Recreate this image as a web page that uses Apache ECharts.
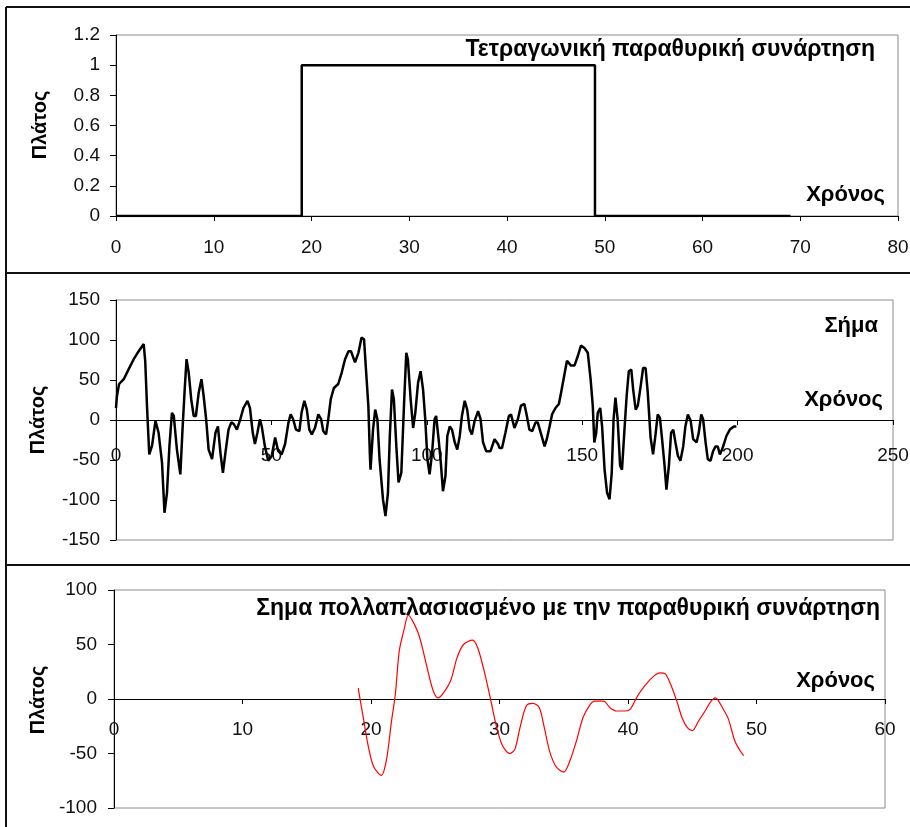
<!DOCTYPE html>
<html><head><meta charset="utf-8">
<script src="https://cdn.jsdelivr.net/npm/echarts@6/dist/echarts.min.js"></script>
<style>html,body{margin:0;padding:0;background:#fff}#c{width:910px;height:827px}</style>
</head><body><div id="c"></div>
<script>
// Panel 1: rectangular window
const windowX = [0, 19, 19, 49, 49, 69];
const windowY = [0, 0, 1, 1, 0, 0];
// Panel 2: signal
const signalX = [0,0.3,1,2.5,4,5.7,7.3,8.9,9.4,10,10.7,11.6,12.7,13.7,14.8,15.6,16.4,17.2,18,18.6,19.6,20.7,21.4,22.1,22.7,23.4,24.2,25,25.7,26.6,27.5,28.2,29,29.8,30.9,32,32.8,33.6,34.4,35.2,36.2,37.1,37.9,38.9,40,41,42.3,43.1,44,44.7,45.5,46.3,46.9,47.9,49,50.1,51.2,52.2,53.3,54.4,55.5,56.2,57,57.9,59,59.7,60.6,61.4,62.2,63,64,65.1,66,66.7,67.6,68.3,69.1,70.1,71.5,72.6,73.7,74.8,75.6,76.9,78,79,79.8,80.4,81.2,81.7,81.9,82.7,83.4,84.1,84.8,85.9,86.7,87.5,88.1,88.8,89.4,90.2,90.9,91.8,92.7,93.4,93.9,94.8,95.6,96.3,97.2,98,98.8,99.5,100.2,100.9,101.7,102.5,103,103.8,104.5,105.2,106,106.6,107.4,108.1,109,109.8,110.6,111.3,112.2,113,113.8,114.5,115.4,116.5,117.3,118.1,119.1,120.5,121.8,122.9,123.4,124.2,125.3,126.4,127.1,128.2,129.3,130.3,131.4,132.2,133,133.9,135,135.7,136.8,137.9,138.6,139.5,140.3,141.4,142.5,143.2,144.1,145.1,145.7,146.4,147.5,148.6,149.6,150.7,151.8,152.7,153.4,153.9,154.5,155,155.8,156.4,157.2,158,158.8,159.5,160.1,160.7,161.4,162.2,162.8,163.6,164.3,165,165.8,166.4,167.2,167.9,168.8,169.6,170.4,171.1,172,172.8,173.6,174.3,175,175.7,176.5,177.1,177.9,178.6,179.3,180,180.8,181.6,182.5,183.2,184,184.9,185.7,186.8,187.5,188.3,188.9,189.7,190.4,191.3,192.1,192.9,193.6,194.3,195,195.6,196.4,197.5,198.8,199.6];
const signalY = [15,30,45,51,63,76,86,95,74,15,-43,-32,-1,-16,-53,-116,-91,-32,9,5,-37,-68,-12,38,76,59,26,5,5,34,51,30,1,-37,-49,-16,-8,-41,-66,-41,-12,-3,-5,-12,1,15,24,15,-16,-30,-16,1,-8,-33,-51,-45,-22,-39,-43,-30,-3,7,1,-12,-14,9,24,13,-12,-18,-10,7,1,-14,-18,1,26,40,45,59,76,86,86,72,84,103,101,65,17,-45,-62,-12,13,1,-49,-99,-120,-91,-20,38,26,-33,-78,-66,22,84,76,26,-10,9,47,61,38,1,-49,-68,-41,1,5,-24,-53,-89,-70,-20,-8,-12,-28,-37,-20,5,24,13,-12,-18,-1,11,1,-28,-39,-39,-24,-30,-35,-35,-16,5,7,-10,1,18,20,5,-12,-14,-3,-3,-18,-33,-24,-8,7,15,20,34,53,74,76,68,68,80,93,90,84,51,18,-28,-16,9,15,-8,-62,-91,-99,-66,1,28,1,-57,-62,-12,30,61,63,38,13,18,42,65,65,34,-22,-43,-18,7,3,-24,-57,-87,-57,-16,-12,-28,-45,-51,-33,-8,7,-1,-24,-28,-16,7,1,-28,-49,-51,-39,-33,-33,-43,-37,-30,-20,-12,-8,-8];
// Panel 3: signal multiplied by the window
const productX = [19,19.4,19.8,20.2,20.8,21.2,21.6,21.9,22.2,22.6,22.9,23.4,23.8,24.3,24.8,25.2,25.6,26.2,26.7,27.2,27.9,28.3,28.8,29.3,29.7,30.2,30.8,31.2,31.6,32.1,32.6,33.1,33.5,33.9,34.4,35,35.5,36,36.5,37,37.4,38.1,38.6,39.1,39.8,40.2,40.7,41.3,42,42.5,42.9,43.3,43.8,44.2,44.6,45,45.5,46,46.4,46.8,47,47.4,47.8,48.3,48.7,49];
const productY = [10,-17,-44,-62,-70,-56,-20,5,44,65,77,68,56,32,9,1,5,17,38,50,54,47,26,0,-22,-42,-50,-46,-26,-6,-4,-8,-27,-48,-62,-67,-56,-38,-17,-6,-2,-2,-8,-11,-11,-9,2,12,21,24,23,14,-2,-17,-26,-29,-20,-11,-3,1,-1,-9,-18,-38,-47,-52];

const yTitle = 'Πλάτος';
const xTitle = 'Χρόνος';
const title1 = 'Τετραγωνική παραθυρική συνάρτηση';
const title2 = 'Σήμα';
const title3 = 'Σημα πολλαπλασιασμένο με την παραθυρική συνάρτηση';

const FONT = '"Liberation Sans", Arial, sans-serif';
const zip = (xs, ys) => xs.map((x, i) => [x, ys[i]]);

function xAxis(gi, min, max, interval, margin, offset) {
  return {
    type: 'value', gridIndex: gi, min, max, interval, position: 'bottom', offset: offset,
    axisLine: { show: true, onZero: false, lineStyle: { color: '#000', width: 1 } },
    axisTick: { show: true, length: 5, inside: false, lineStyle: { color: '#000' } },
    axisLabel: { show: true, margin, fontSize: 19, color: '#111', fontFamily: FONT,
                 showMinLabel: true, showMaxLabel: true, hideOverlap: false },
    splitLine: { show: false }
  };
}
function yAxis(gi, min, max, interval, margin) {
  return {
    type: 'value', gridIndex: gi, min, max, interval,
    axisLine: { show: true, onZero: false, lineStyle: { color: '#000', width: 1 } },
    axisTick: { show: true, length: 6, inside: false, lineStyle: { color: '#000' } },
    axisLabel: { show: true, margin, fontSize: 19, color: '#111', fontFamily: FONT },
    splitLine: { show: false }
  };
}
const gridBase = { show: true, borderColor: '#8c8c8c', borderWidth: 1, backgroundColor: 'transparent',
                   containLabel: false, outerBoundsMode: 'none' };

function txt(text, x, y, size, align, rot) {
  return {
    type: 'text', x, y, rotation: rot || 0, z: 100,
    style: { text, font: 'bold ' + size + 'px ' + FONT, fill: '#000',
             align: align, verticalAlign: 'middle' }
  };
}
function ln(x1, y1, x2, y2) {
  return { type: 'line', z: 100, shape: { x1, y1, x2, y2 }, style: { stroke: '#111', lineWidth: 2 } };
}

const chart = echarts.init(document.getElementById('c'), null, { renderer: 'canvas' });
chart.setOption({
  animation: false,
  backgroundColor: '#fff',
  grid: [
    Object.assign({ left: 116, top: 35, width: 782, height: 181 }, gridBase),
    Object.assign({ left: 116, top: 300, width: 777, height: 240 }, gridBase),
    Object.assign({ left: 114, top: 590, width: 771, height: 218 }, gridBase)
  ],
  xAxis: [
    xAxis(0, 0, 80, 10, 22, 0),
    xAxis(1, 0, 250, 50, 26, -120),
    xAxis(2, 0, 60, 10, 21, -109)
  ],
  yAxis: [
    yAxis(0, 0, 1.2, 0.2, 16),
    yAxis(1, -150, 150, 50, 16),
    yAxis(2, -100, 100, 50, 17)
  ],
  series: [
    { type: 'line', xAxisIndex: 0, yAxisIndex: 0, data: zip(windowX, windowY), symbol: 'none',
      lineStyle: { color: '#000', width: 2.5 }, z: 5 },
    { type: 'line', xAxisIndex: 1, yAxisIndex: 1, data: zip(signalX, signalY), symbol: 'none',
      lineStyle: { color: '#000', width: 2.5 }, z: 5 },
    { type: 'line', xAxisIndex: 2, yAxisIndex: 2, data: zip(productX, productY), symbol: 'none',
      smooth: 0.3, lineStyle: { color: '#ff0000', width: 1.2 }, z: 5 }
  ],
  graphic: [
    ln(6, 7, 910, 7), ln(6, 7, 6, 827), ln(6, 273, 910, 273), ln(6, 565, 910, 565),
    txt(yTitle, 40, 125, 20, 'center', Math.PI / 2),
    txt(yTitle, 38, 420, 20, 'center', Math.PI / 2),
    txt(yTitle, 38, 700, 20, 'center', Math.PI / 2),
    txt(title1, 875, 50, 23, 'right'),
    txt(xTitle, 885, 195, 22, 'right'),
    txt(title2, 878, 326, 22, 'right'),
    txt(xTitle, 883, 400, 22, 'right'),
    txt(title3, 880, 609, 23, 'right'),
    txt(xTitle, 875, 681, 22, 'right')
  ]
});
</script>
</body></html>
